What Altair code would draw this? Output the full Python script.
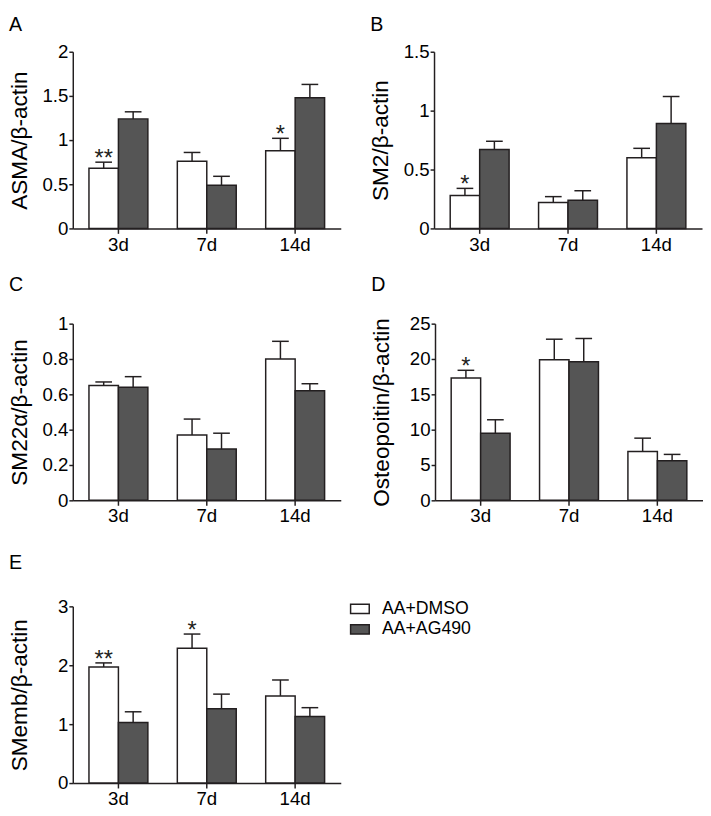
import altair as alt
import pandas as pd

FONT = "Liberation Sans"
INK = "#231f20"
DARK = "#555555"

cats = ["3d", "7d", "14d"]
groups = ["AA+DMSO", "AA+AG490"]

# Panel A
A_dmso = [0.68, 0.76, 0.88]
A_dmso_err = [0.07, 0.10, 0.14]
A_ag = [1.24, 0.49, 1.48]
A_ag_err = [0.08, 0.10, 0.15]
A_stars = ["**", "", "*"]

# Panel B
B_dmso = [0.28, 0.22, 0.60]
B_dmso_err = [0.06, 0.05, 0.08]
B_ag = [0.67, 0.24, 0.89]
B_ag_err = [0.07, 0.08, 0.23]
B_stars = ["*", "", ""]

# Panel C
C_dmso = [0.65, 0.37, 0.80]
C_dmso_err = [0.02, 0.09, 0.10]
C_ag = [0.64, 0.29, 0.62]
C_ag_err = [0.06, 0.09, 0.04]
C_stars = ["", "", ""]

# Panel D
D_dmso = [17.3, 19.9, 6.9]
D_dmso_err = [1.1, 2.9, 1.9]
D_ag = [9.5, 19.6, 5.6]
D_ag_err = [1.9, 3.3, 0.9]
D_stars = ["*", "", ""]

# Panel E
E_dmso = [1.97, 2.29, 1.48]
E_dmso_err = [0.07, 0.24, 0.27]
E_ag = [1.03, 1.26, 1.13]
E_ag_err = [0.18, 0.25, 0.15]
E_stars = ["**", "*", ""]

W, H = 273, 180
LABEL_FS = 19


def make_df(dmso, dmso_err, ag, ag_err, stars):
    rows = []
    for i, c in enumerate(cats):
        rows.append(dict(cat=c, group=groups[0], value=dmso[i],
                         upper=dmso[i] + dmso_err[i], star=stars[i]))
        rows.append(dict(cat=c, group=groups[1], value=ag[i],
                         upper=ag[i] + ag_err[i], star=""))
    return pd.DataFrame(rows)


def panel(label, ytitle, dmso, dmso_err, ag, ag_err, stars, domain, ticks,
          legend=None, title_offset=12):
    df = make_df(dmso, dmso_err, ag, ag_err, stars)
    x = alt.X("cat:N", sort=cats,
              scale=alt.Scale(paddingInner=1 / 3, paddingOuter=0.183),
              axis=alt.Axis(title=None, labelFontSize=LABEL_FS))
    xo = alt.XOffset("group:N", sort=groups,
                     scale=alt.Scale(paddingInner=0, paddingOuter=0))
    yscale = alt.Scale(domain=domain, nice=False, zero=True)
    yaxis = alt.Axis(title=ytitle, values=ticks, labelFontSize=LABEL_FS)
    base = alt.Chart(df).encode(x=x, xOffset=xo)
    color = alt.Color("group:N", sort=groups,
                      scale=alt.Scale(domain=groups, range=["#ffffff", DARK]),
                      legend=legend)
    bars = base.mark_bar(stroke=INK, strokeWidth=1.5).encode(
        y=alt.Y("value:Q", scale=yscale, axis=yaxis), color=color)
    err = base.mark_rule(color=INK, strokeWidth=1.5).encode(
        y=alt.Y("value:Q", scale=yscale, axis=yaxis), y2="upper:Q")
    cap = base.mark_tick(color=INK, size=17, thickness=1.5, opacity=1).encode(
        y=alt.Y("upper:Q", scale=yscale, axis=yaxis))
    star = base.transform_filter(alt.datum.star != "").mark_text(
        fontSize=24, baseline="alphabetic", dy=4, color=INK).encode(
        y=alt.Y("upper:Q", scale=yscale, axis=yaxis), text="star:N")
    return alt.layer(bars, err, cap, star).properties(
        width=W, height=H,
        title=alt.TitleParams(label, anchor="start", frame="bounds",
                              fontSize=20, fontWeight="normal",
                              offset=title_offset, color="black"))


legend = alt.Legend(orient="none", legendX=282, legendY=-8, title=None,
                    symbolType="M-1,-0.5H1V0.5H-1Z", symbolSize=361,
                    symbolStrokeColor=INK, symbolStrokeWidth=1.5,
                    labelFontSize=18, labelOffset=12, rowPadding=1, padding=0)

pA = panel("A", "ASMA/β-actin", A_dmso, A_dmso_err, A_ag, A_ag_err, A_stars,
           [0, 2], [0, 0.5, 1, 1.5, 2], title_offset=8)
pB = panel("B", "SM2/β-actin", B_dmso, B_dmso_err, B_ag, B_ag_err, B_stars,
           [0, 1.5], [0, 0.5, 1, 1.5], title_offset=8)
pC = panel("C", "SM22α/β-actin", C_dmso, C_dmso_err, C_ag, C_ag_err, C_stars,
           [0, 1], [0, 0.2, 0.4, 0.6, 0.8, 1], title_offset=20)
pD = panel("D", "Osteopoitin/β-actin", D_dmso, D_dmso_err, D_ag, D_ag_err,
           D_stars, [0, 25], [0, 5, 10, 15, 20, 25], title_offset=20)
pE = panel("E", "SMemb/β-actin", E_dmso, E_dmso_err, E_ag, E_ag_err, E_stars,
           [0, 3], [0, 1, 2, 3], legend=legend, title_offset=25)

row1 = alt.hconcat(pA, pB, spacing=30).resolve_scale(color="independent")
row2 = alt.hconcat(pC, pD, spacing=30).resolve_scale(color="independent")
top = alt.vconcat(row1, row2, spacing=22).resolve_scale(color="independent")
chart = alt.vconcat(top, pE, spacing=28).resolve_scale(color="independent")

chart = chart.properties(padding=0).configure(font=FONT).configure_view(
    stroke=None).configure_axis(
    domainColor=INK, domainWidth=1.5, tickColor=INK, tickWidth=1.5,
    labelColor="black", titleColor="black", labelFont=FONT, titleFont=FONT,
    grid=False, labelFontSize=LABEL_FS
).configure_axisX(
    labelAngle=0, tickSize=5, labelPadding=2
).configure_axisY(
    format="~g", tickSize=4, labelPadding=1, titleFontSize=23,
    titleFontWeight="normal", titleX=-42
).configure_legend(labelColor="black", labelFont=FONT)

chart.save("out.html", embed_options={"renderer": "svg", "actions": False})
